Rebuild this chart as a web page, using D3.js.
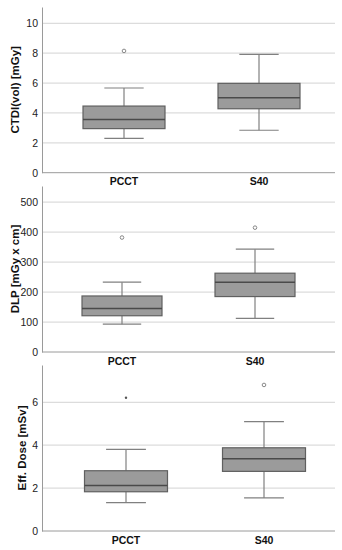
<!DOCTYPE html>
<html>
<head>
<meta charset="utf-8">
<script src="https://cdn.jsdelivr.net/npm/d3@7"></script>
<style>
  body { margin: 0; background: #fff; }
  svg { display: block; font-family: "Liberation Sans", Arial, sans-serif; }
</style>
</head>
<body>
<svg width="342" height="550"></svg>
<script>
const groups = ['PCCT', 'S40'];

// [low whisker, Q1, median, Q3, high whisker]
const ctdiStats = [[2.3, 2.95, 3.56, 4.46, 5.67], [2.84, 4.28, 5.02, 5.98, 7.92]];
const ctdiOutliers = [[8.15], [] ];
const ctdiTicks = [0, 2, 4, 6, 8, 10];

const dlpStats = [[93, 121, 145, 187, 233], [112, 185, 233, 263, 343]];
const dlpOutliers = [[382], [415]];
const dlpTicks = [0, 100, 200, 300, 400, 500];

const doseStats = [[1.32, 1.83, 2.12, 2.81, 3.81], [1.54, 2.78, 3.37, 3.88, 5.1]];
const doseOutliers = [[6.21], [6.81]];
const doseExtreme = [true, false]; // PCCT point drawn as small dot
const doseTicks = [0, 2, 4, 6];

const panels = [
  { title: 'CTDI(vol) [mGy]', stats: ctdiStats, out: ctdiOutliers, ticks: ctdiTicks, max: 11.09,
    top: 7, base: 172.7, centers: [124, 259], boxW: 82, titleX: 15 },
  { title: 'DLP [mGy x cm]', stats: dlpStats, out: dlpOutliers, ticks: dlpTicks, max: 554,
    top: 186, base: 352, centers: [122, 255], boxW: 80, titleX: 15 },
  { title: 'Eff. Dose [mSv]', stats: doseStats, out: doseOutliers, ticks: doseTicks, max: 7.74,
    top: 365, base: 531, centers: [126, 264], boxW: 83, titleX: 22, dots: doseExtreme }
];

const svg = d3.select('svg');
const left = 42, right = 335;

panels.forEach((p) => {
  const g = svg.append('g');
  const y = d3.scaleLinear().domain([0, p.max]).range([p.base, p.top]);
  const x = d3.scalePoint().domain(groups).range(p.centers);

  // grid
  g.selectAll('line.grid').data(p.ticks.filter(t => t > 0)).join('line')
    .attr('x1', left).attr('x2', right)
    .attr('y1', d => y(d)).attr('y2', d => y(d))
    .attr('stroke', '#dcdcdc').attr('stroke-width', 1.2);

  // y axis
  const ya = g.append('g').attr('transform', `translate(${left},0)`)
    .call(d3.axisLeft(y).tickValues(p.ticks).tickSize(0).tickPadding(4));
  ya.select('.domain').attr('stroke', '#9a9a9a');
  ya.selectAll('text').attr('font-size', 10.5).attr('fill', '#222')
    .attr('font-family', '"Liberation Sans", Arial, sans-serif');

  // x axis line
  g.append('line').attr('x1', left).attr('x2', right)
    .attr('y1', p.base).attr('y2', p.base).attr('stroke', '#9a9a9a');

  g.selectAll('text.xl').data(groups).join('text')
    .attr('x', d => x(d)).attr('y', p.base + 12.5)
    .attr('text-anchor', 'middle').attr('font-weight', 'bold').attr('font-size', 10.5)
    .attr('fill', '#111').text(d => d);

  // y title
  g.append('text')
    .attr('transform', `translate(${p.titleX},${(p.top + p.base) / 2}) rotate(-90)`)
    .attr('text-anchor', 'middle').attr('dy', '0.35em')
    .attr('font-weight', 'bold').attr('font-size', 11.5).attr('fill', '#111')
    .text(p.title);

  groups.forEach((grp, i) => {
    const s = p.stats[i];
    const cx = x(grp);
    const cap = p.boxW * 0.48;
    // whiskers
    g.append('line').attr('x1', cx).attr('x2', cx).attr('y1', y(s[0])).attr('y2', y(s[1]))
      .attr('stroke', '#808080').attr('stroke-width', 1.2);
    g.append('line').attr('x1', cx).attr('x2', cx).attr('y1', y(s[3])).attr('y2', y(s[4]))
      .attr('stroke', '#808080').attr('stroke-width', 1.2);
    [s[0], s[4]].forEach(v => {
      g.append('line').attr('x1', cx - cap / 2).attr('x2', cx + cap / 2)
        .attr('y1', y(v)).attr('y2', y(v)).attr('stroke', '#808080').attr('stroke-width', 1.2);
    });
    // box
    g.append('rect').attr('x', cx - p.boxW / 2).attr('width', p.boxW)
      .attr('y', y(s[3])).attr('height', y(s[1]) - y(s[3]))
      .attr('fill', '#9b9b9b').attr('stroke', '#606060').attr('stroke-width', 1.2);
    g.append('line').attr('x1', cx - p.boxW / 2).attr('x2', cx + p.boxW / 2)
      .attr('y1', y(s[2])).attr('y2', y(s[2])).attr('stroke', '#4a4a4a').attr('stroke-width', 1.6);
    // outliers
    p.out[i].forEach(v => {
      if (p.dots && p.dots[i]) {
        g.append('circle').attr('cx', cx).attr('cy', y(v)).attr('r', 1.2).attr('fill', '#555');
      } else {
        g.append('circle').attr('cx', cx).attr('cy', y(v)).attr('r', 1.8)
          .attr('fill', 'none').attr('stroke', '#888').attr('stroke-width', 1);
      }
    });
  });
});
</script>
</body>
</html>
